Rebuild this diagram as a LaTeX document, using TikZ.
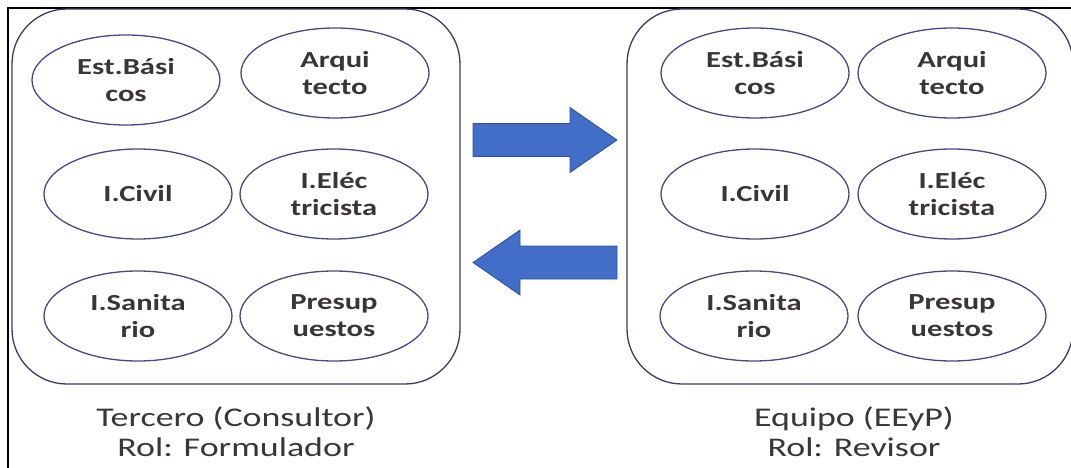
\documentclass[tikz,border=0pt]{standalone}
\usepackage{fontspec}
\setmainfont{Carlito}[FakeStretch=1.33]
\usetikzlibrary{shapes.geometric}

\definecolor{borde}{RGB}{72,72,128}
\definecolor{texto}{RGB}{58,54,54}
\definecolor{flecha}{RGB}{66,110,200}
\definecolor{flechaborde}{RGB}{45,80,165}

\tikzset{
  rol/.style={ellipse, draw=borde, line width=1.3pt, minimum width=188pt, minimum height=90pt,
    inner sep=0pt, align=center, text=texto, font=\fontsize{23}{27}\selectfont\bfseries},
  panel/.style={draw=borde!80!black, line width=1.3pt, rounded corners=55pt, minimum height=375pt},
  titulo/.style={align=center, text=texto, font=\fontsize{27}{30}\selectfont},
  bloque/.style={fill=flecha, draw=flechaborde, line width=0.8pt}
}

\begin{document}
\begin{tikzpicture}[x=1pt,y=-1pt]
\useasboundingbox (0,0) rectangle (1071,468);
% marco exterior (solo se ven arriba e izquierda)
\draw[line width=2pt] (8,480) -- (8,8) -- (1090,8);

% paneles
\node[panel, minimum width=448pt] (izq) at (236,196.5) {};
\node[panel, minimum width=446pt] (der) at (850,196.5) {};

% especialidades, lado del consultor
\foreach \n/\x/\y/\txt in {1/126/80/{Est.Bási\\cos}, 2/335/73/{Arqui\\tecto},
    3/138/194/{I.Civil}, 4/334/194/{I.Eléc\\tricista},
    5/138/316/{I.Sanita\\rio}, 6/334/316/{Presup\\uestos}}
{
\node[rol] (izq\n) at (\x,\y) {\txt};
}
% especialidades, lado del equipo
\foreach \n/\x/\y/\txt in {1/755/73/{Est.Bási\\cos}, 2/952/73/{Arqui\\tecto},
    3/755/194/{I.Civil}, 4/952/194/{I.Eléc\\tricista},
    5/754/316/{I.Sanita\\rio}, 6/952/316/{Presup\\uestos}}
{
\node[rol] (der\n) at (\x,\y) {\txt};
}

% flechas de ida y vuelta
\draw[bloque] (473,123.5) -- (570,123.5) -- (570,107.5) -- (617,140) -- (570,172.5) -- (570,156.5) -- (473,156.5) -- cycle;
\draw[bloque] (617,246) -- (520,246) -- (520,230) -- (473,262.5) -- (520,295) -- (520,279) -- (617,279) -- cycle;

% roles
\node[titulo] (tizq) at (236,432) {Tercero (Consultor)\\Rol: Formulador};
\node[titulo] (tder) at (854,432) {Equipo (EEyP)\\Rol: Revisor};
\end{tikzpicture}
\end{document}
